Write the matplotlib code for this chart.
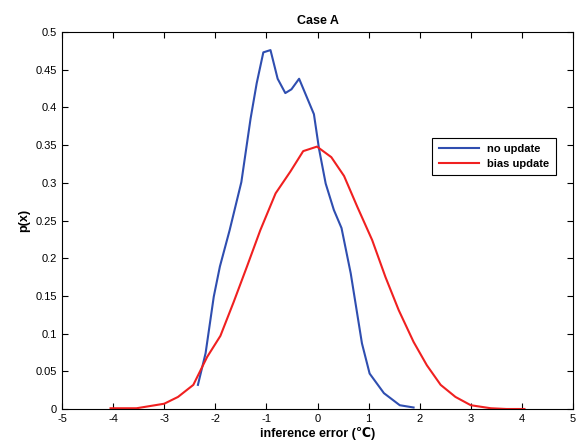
import matplotlib
matplotlib.use("Agg")
import matplotlib.pyplot as plt

plt.rcParams['font.family'] = ['Liberation Sans', 'DejaVu Sans']
plt.rcParams['axes.unicode_minus'] = False

no_update_x = [-2.34, -2.19, -2.03, -1.91, -1.72, -1.49, -1.31, -1.19, -1.06, -0.92,
               -0.78, -0.63, -0.51, -0.36, -0.07, 0.03, 0.16, 0.32, 0.47, 0.65,
               0.87, 1.02, 1.30, 1.61, 1.88]
no_update_y = [0.032, 0.074, 0.149, 0.189, 0.237, 0.301, 0.385, 0.432, 0.473, 0.476,
               0.438, 0.419, 0.424, 0.438, 0.391, 0.345, 0.299, 0.264, 0.240, 0.180,
               0.087, 0.047, 0.021, 0.005, 0.002]

bias_x = [-4.05, -3.54, -3.00, -2.73, -2.43, -2.16, -1.90, -1.64, -1.38, -1.12,
          -0.82, -0.53, -0.28, -0.01, 0.27, 0.52, 0.78, 1.07, 1.33, 1.59,
          1.88, 2.14, 2.41, 2.70, 3.00, 3.39, 3.70, 4.05]
bias_y = [0.001, 0.001, 0.007, 0.016, 0.032, 0.069, 0.097, 0.142, 0.189, 0.237,
          0.286, 0.315, 0.342, 0.348, 0.334, 0.309, 0.268, 0.224, 0.175, 0.131,
          0.089, 0.058, 0.032, 0.016, 0.005, 0.001, 0.0, 0.0]

x_ticks = [-5, -4, -3, -2, -1, 0, 1, 2, 3, 4, 5]
y_ticks = [0, 0.05, 0.1, 0.15, 0.2, 0.25, 0.3, 0.35, 0.4, 0.45, 0.5]
y_tick_labels = ['0', '0.05', '0.1', '0.15', '0.2', '0.25', '0.3', '0.35', '0.4', '0.45', '0.5']

fig = plt.figure(figsize=(5.79, 4.47), dpi=100)
ax = fig.add_axes([62/579, 1-409/447, (573-62)/579, (409-32)/447])

ax.plot(no_update_x, no_update_y, color='#2f4eb0', lw=1.5, label='no update')
ax.plot(bias_x, bias_y, color='#f02020', lw=1.5, label='bias update')

ax.set_xlim(-5, 5)
ax.set_ylim(0, 0.5)
ax.set_xticks(x_ticks)
ax.set_yticks(y_ticks)
ax.set_yticklabels(y_tick_labels)
ax.tick_params(direction='in', length=4, labelsize=8, top=True, right=True, width=0.8)
for s in ax.spines.values():
    s.set_linewidth(0.8)

ax.set_title('Case A', fontsize=9, fontweight='bold', pad=6)
ax.set_xlabel('inference error (\u2103)', fontsize=9, fontweight='bold', labelpad=2)
ax.set_ylabel('p(x)', fontsize=9, fontweight='bold', labelpad=4)

leg = ax.legend(loc='upper left', bbox_to_anchor=(0.714, 0.733),
                prop={'weight': 'bold', 'size': 8}, fancybox=False, edgecolor='black',
                framealpha=1, handlelength=3.6, borderpad=0.55, labelspacing=0.45)
leg.get_frame().set_linewidth(0.8)

fig.savefig('out.png', dpi=100)
